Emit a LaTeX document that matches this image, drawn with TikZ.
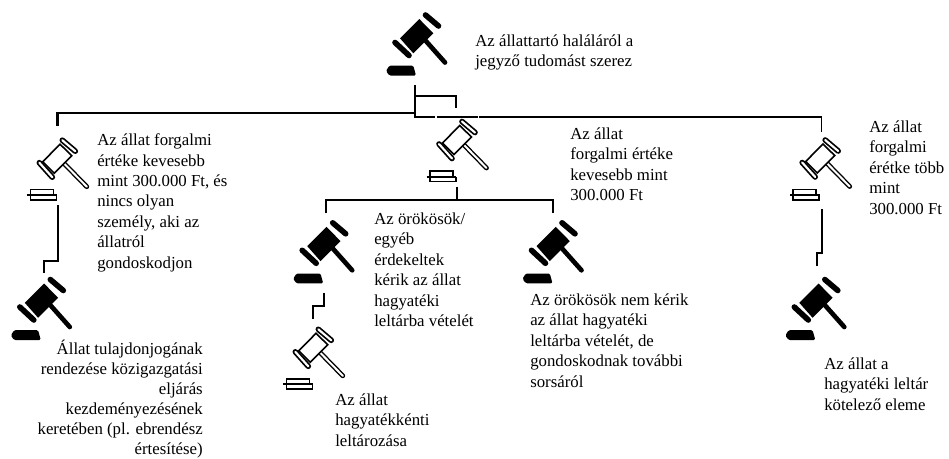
\documentclass[tikz,border=0pt]{standalone}
\usepackage{fontspec}
\setmainfont{Liberation Serif}
\usepackage{tikz}
\tikzset{>=latex}
\tikzset{
  link/.style={line width=1.6pt},
  thinlink/.style={line width=1.1pt},
  txt/.style={anchor=north west, inner sep=0pt, align=left, font=\fontsize{12.6}{15.3}\selectfont},
  txtr/.style={anchor=north east, inner sep=0pt, align=right, font=\fontsize{12.6}{15}\selectfont},
  gavelfull/.pic={
    \draw[black, line width=3.5pt, line cap=round] (8, 5) -- (28, 27.5);
    \fill[black] (2.3, -16) -- (16.3, -1.7) -- (-3.7, 18.3) -- (-17, 3.3) -- cycle;
    \draw[black, line width=4.2pt, line cap=round] (8.5, -20) -- (21.5, -9);
    \draw[black, line width=4.2pt, line cap=round] (-22, 7.5) -- (-8, 20.5);
    \fill[black, rounded corners=1pt] (-27.7, 30.7) -- (-3.7, 30.7) -- (-1, 40.5) -- (-27.7, 40.5) -- (-31, 36) -- cycle;
  },
  gavelline/.pic={
    \draw[black, line width=3.6pt, line cap=round] (7, 5) -- (29.5, 28);
    \draw[white, line width=1.5pt, line cap=round] (7, 5) -- (29.5, 28);
    \draw[black, fill=white, line width=1.2pt] (2.7, -14.5) -- (14.5, -3) -- (-3, 14.5) -- (-14.5, 3) -- cycle;
    \draw[black, line width=4.2pt, line cap=round] (5, -18.5) -- (18, -7.5);
    \draw[white, line width=1.6pt, line cap=round] (5, -18.5) -- (18, -7.5);
    \draw[black, line width=4.2pt, line cap=round] (-18, 4) -- (-5, 18.5);
    \draw[white, line width=1.6pt, line cap=round] (-18, 4) -- (-5, 18.5);
    \draw[black, line width=1.1pt] (-27, 36.5) -- (-27, 31) -- (-4, 31) -- (-4, 36.5);
    \draw[black, line width=1.5pt] (-30.5, 36.5) -- (-0.7, 36.5);
    \draw[black, line width=1.1pt] (-27, 36.5) -- (-27, 41.3) -- (-1, 41.3) -- (-1, 36.5);
  }
}
\begin{document}
\begin{tikzpicture}[x=0.75pt, y=-0.75pt]
\useasboundingbox (0, 0) rectangle (949, 458);

\pic (gtop) at (417, 35) {gavelfull};
\pic (gcent) at (457, 140) {gavelline};
\pic (gleft) at (57.3, 158.7) {gavelline};
\pic (gleftb) at (41.8, 299.5) {gavelfull};
\pic (gmidl) at (324.2, 242.8) {gavelfull};
\pic (gmidr) at (553.5, 242.8) {gavelfull};
\pic (gmidb) at (313.3, 347.8) {gavelline};
\pic (gright) at (820.2, 158.5) {gavelline};
\pic (grightb) at (816.3, 299.5) {gavelfull};

\coordinate (top1) at (414.7, 85.3);
\coordinate (top2) at (414.7, 118.3);
\coordinate (br) at (414.7, 96);
\coordinate (cent1) at (456, 108.3);
\coordinate (lh) at (414.7, 112.7);
\coordinate (left1) at (57.5, 126);
\coordinate (rh) at (414.7, 117);
\coordinate (right1) at (821.7, 131.7);
\coordinate (left2) at (58, 205);
\coordinate (leftb1) at (43.7, 273);
\coordinate (cent2) at (456.7, 186.7);
\coordinate (mid) at (456.7, 200);
\coordinate (midl1) at (326, 213.3);
\coordinate (midr1) at (553.3, 213.3);
\coordinate (midl2) at (324, 292.7);
\coordinate (midb1) at (313.3, 319.3);
\coordinate (right2) at (821.7, 209.3);
\coordinate (rightb1) at (816.7, 266);

\draw[link] (top1) -- (top2);
\draw[link] (br) -| (cent1);
\draw[link] (left1) |- (lh);
\draw[thinlink, dash pattern=on 15.5pt off 1.2pt on 30.5pt off 1.2pt on 400pt] (rh) -| (right1);
\draw[link] (left2) -- (58, 261) -| (leftb1);
\draw[link] (cent2) -- (mid);
\draw[link] (midl1) |- (mid) -| (midr1);
\draw[link] (midl2) -- (324, 305.7) -| (midb1);
\draw[link] (right2) -- (821.7, 252.7) -| (rightb1);

\node[txt] (ttop) at (475, 34.5) {Az állattartó haláláról a\\jegyző tudomást szerez};
\node[txt] (tleft) at (97, 133.5) {Az állat forgalmi\\értéke kevesebb\\mint 300.000 Ft, és\\nincs olyan\\személy, aki az\\állatról\\gondoskodjon};
\node[txt] (tcent) at (570, 127.5) {Az állat\\forgalmi értéke\\kevesebb mint\\300.000 Ft};
\node[txt] (tright) at (869, 120.5) {Az állat\\forgalmi\\érétke több\\mint\\300.000 Ft};
\node[txt] (tmidl) at (374, 212.5) {Az örökösök/\\egyéb\\érdekeltek\\kérik az állat\\hagyatéki\\leltárba vételét};
\node[txt] (tmidr) at (530, 293.5) {Az örökösök nem kérik\\az állat hagyatéki\\leltárba vételét, de\\gondoskodnak további\\sorsáról};
\node[txt] (tmidb) at (335, 393.5) {Az állat\\hagyatékkénti\\leltározása};
\node[txt] (trightb) at (824, 357.5) {Az állat a\\hagyatéki leltár\\kötelező eleme};
\node[txtr] (tleftb) at (203, 340) {Állat tulajdonjogának\\rendezése közigazgatási\\eljárás\\kezdeményezésének\\keretében (pl. ebrendész\\értesítése)};
\end{tikzpicture}
\end{document}
